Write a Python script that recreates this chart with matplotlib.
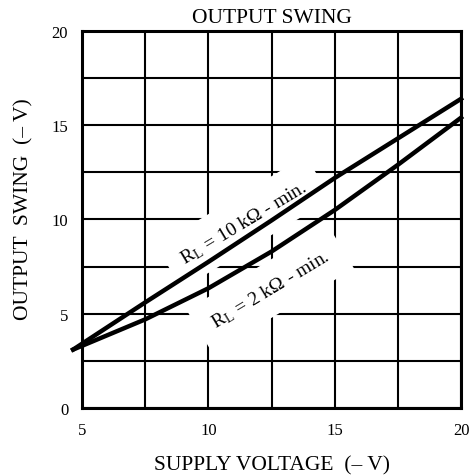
import numpy as np
import matplotlib
matplotlib.use("Agg")
import matplotlib.pyplot as plt

plt.rcParams['font.family'] = ['Liberation Serif', 'DejaVu Serif']
plt.rcParams['mathtext.fontset'] = 'stix'

# values
supply_v = [4.65, 7.5, 10.0, 12.5, 15.0, 17.5, 20.0]
swing_10k = [3.1, 5.6, 7.75, 9.95, 12.2, 14.3, 16.4]
swing_2k = [3.1, 4.7, 6.35, 8.3, 10.5, 12.9, 15.4]

x_ticks = [5, 10, 15, 20]
y_ticks = [0, 5, 10, 15, 20]
grid_step = 2.5

fig = plt.figure(figsize=(4.70, 4.77), dpi=100)
ax = fig.add_axes([0.1745, 0.1426, 0.8065, 0.7904])

ax.set_xlim(5, 20)
ax.set_ylim(0, 20)

# grid every 2.5 V in both directions
ax.set_xticks(x_ticks)
ax.set_yticks(y_ticks)
ax.set_xticks(np.arange(5, 20.01, grid_step), minor=True)
ax.set_yticks(np.arange(0, 20.01, grid_step), minor=True)
ax.grid(True, which='both', color='black', linewidth=1.5, zorder=0)
ax.set_axisbelow(True)
ax.tick_params(which='both', length=0)
ax.tick_params(axis='x', pad=10, labelsize=12)
ax.tick_params(axis='y', pad=10, labelsize=12)

for s in ax.spines.values():
    s.set_linewidth(2.2)
    s.set_zorder(5)

ax.plot(supply_v, swing_10k, color='black', linewidth=3.2, clip_on=False, zorder=4)
ax.plot(supply_v, swing_2k, color='black', linewidth=3.2, clip_on=False, zorder=4)

box = dict(facecolor='white', edgecolor='none', pad=11)
ax.text(11.4, 9.85, 'R$_\\mathregular{L}$ = 10 k\u03a9 - min.', fontsize=14,
        rotation=31, ha='center', va='center', bbox=box, zorder=2)
ax.text(12.45, 6.3, 'R$_\\mathregular{L}$ = 2 k\u03a9 - min.', fontsize=14,
        rotation=31, ha='center', va='center', bbox=box, zorder=2)

ax.text(0.5, 1.024, 'OUTPUT SWING', transform=ax.transAxes, fontsize=15.5,
        ha='center', va='baseline')
ax.set_xlabel('SUPPLY VOLTAGE  (\u2013 V)', fontsize=15.5)
ax.set_ylabel('OUTPUT  SWING  (\u2013 V)', fontsize=15.5)
ax.xaxis.set_label_coords(0.5, -0.125)
ax.yaxis.set_label_coords(-0.129, 0.53)

fig.savefig('out.png', dpi=100)
